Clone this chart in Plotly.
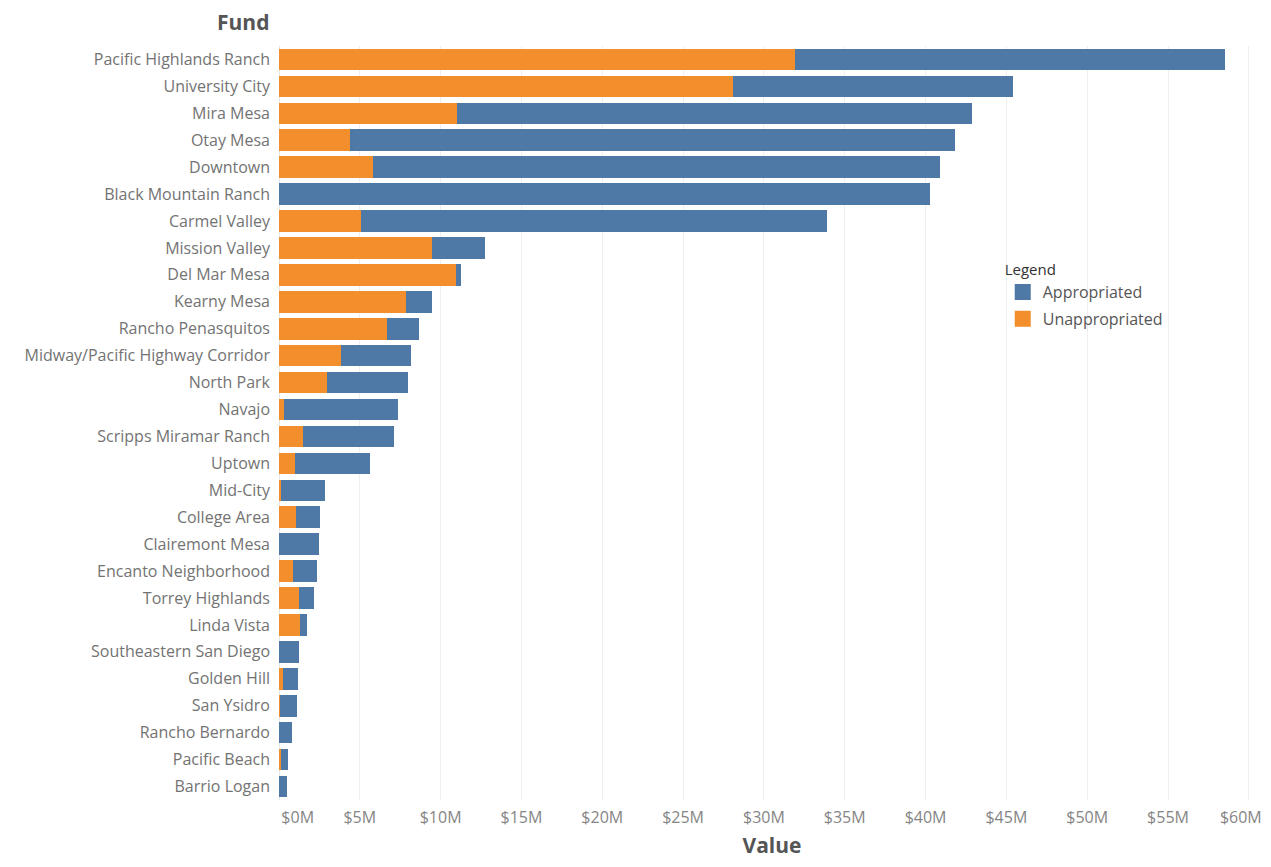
import plotly.graph_objects as go

funds = [
    "Pacific Highlands Ranch", "University City", "Mira Mesa", "Otay Mesa", "Downtown",
    "Black Mountain Ranch", "Carmel Valley", "Mission Valley", "Del Mar Mesa", "Kearny Mesa",
    "Rancho Penasquitos", "Midway/Pacific Highway Corridor", "North Park", "Navajo",
    "Scripps Miramar Ranch", "Uptown", "Mid-City", "College Area", "Clairemont Mesa",
    "Encanto Neighborhood", "Torrey Highlands", "Linda Vista", "Southeastern San Diego",
    "Golden Hill", "San Ysidro", "Rancho Bernardo", "Pacific Beach", "Barrio Logan",
]
# values in $M
unappropriated = [
    31.95, 28.1, 11.0, 4.4, 5.8,
    0.0, 5.08, 9.47, 10.96, 7.86,
    6.69, 3.84, 2.97, 0.3,
    1.49, 0.99, 0.1, 1.05, 0.0,
    0.87, 1.24, 1.3, 0.0,
    0.25, 0.06, 0.0, 0.15, 0.0,
]
totals = [
    58.5, 45.4, 42.9, 41.8, 40.9,
    40.3, 33.9, 12.75, 11.27, 9.47,
    8.67, 8.17, 7.99, 7.37,
    7.12, 5.63, 2.85, 2.54, 2.48,
    2.35, 2.17, 1.73, 1.24,
    1.18, 1.11, 0.8, 0.56, 0.5,
]
appropriated = [round(t - u, 3) for t, u in zip(totals, unappropriated)]

tick_vals = [0, 5, 10, 15, 20, 25, 30, 35, 40, 45, 50, 55, 60]
tick_text = ["$%dM" % v for v in tick_vals]

# first label sits right of its gridline, last label is pulled inside the frame
main_text = ["\u00a0" * 9 + tick_text[0]] + tick_text[1:-1] + [""]

BLUE = "#4e79a7"
ORANGE = "#f28e2b"
FONT = "Open Sans"
TICKFONT = dict(size=16, color="#858585", family=FONT)

fig = go.Figure()
fig.add_trace(go.Bar(
    y=funds, x=unappropriated, orientation="h", name="Unappropriated",
    marker=dict(color=ORANGE, line=dict(width=0)), showlegend=False,
))
fig.add_trace(go.Bar(
    y=funds, x=appropriated, orientation="h", name="Appropriated",
    marker=dict(color=BLUE, line=dict(width=0)), showlegend=False,
))
# legend entries (square swatches, no data drawn)
for nm, col in [("Appropriated", BLUE), ("Unappropriated", ORANGE)]:
    fig.add_trace(go.Scatter(
        x=[None], y=[None], mode="markers", name=nm, legendgroup=nm,
        marker=dict(symbol="square", size=19, color=col), showlegend=True,
    ))
# empty trace so the overlay axis carrying the last tick label is drawn
fig.add_trace(go.Scatter(x=[None], y=[None], xaxis="x2", mode="markers",
                         showlegend=False, hoverinfo="skip"))

# page body has an 8px margin: figure drawn from (8, 8)
fig.update_layout(
    barmode="stack",
    bargap=0.2,
    width=1263, height=851,
    margin=dict(l=271, r=6, t=38, b=59, autoexpand=False),
    paper_bgcolor="white", plot_bgcolor="white",
    font=dict(family=FONT, color="#6b6b6b", size=16),
    showlegend=True,
    legend=dict(
        title=dict(text="Legend", font=dict(size=15, color="#333333", family=FONT)),
        x=0.734, y=0.722, xanchor="left", yanchor="top",
        font=dict(size=16, color="#555555", family=FONT),
        bgcolor="rgba(0,0,0,0)", traceorder="grouped",
        itemsizing="trace", tracegroupgap=3, itemwidth=30,
    ),
    xaxis=dict(
        range=[0, 61.0], tickvals=tick_vals, ticktext=main_text,
        showgrid=True, gridcolor="#efefef", gridwidth=1,
        zeroline=True, zerolinecolor="#e6e6e6", zerolinewidth=1,
        showline=False, ticks="", ticklabelstandoff=6, automargin=True,
        ticklabeloverflow="allow", tickfont=TICKFONT,
        title=dict(text="<b>Value</b>", font=dict(size=21, color="#555555", family=FONT), standoff=16),
    ),
    xaxis2=dict(
        overlaying="x", matches="x", anchor="y", side="bottom",
        tickvals=tick_vals[-1:], ticktext=tick_text[-1:],
        showgrid=False, zeroline=False, showline=False, ticks="",
        ticklabelstandoff=6, ticklabelshift=-8, automargin=False,
        ticklabeloverflow="allow", tickfont=TICKFONT,
    ),
    yaxis=dict(
        categoryorder="array", categoryarray=funds[::-1],
        showgrid=False, ticks="", showline=False, ticklabelstandoff=8, automargin=False,
        tickfont=dict(size=16, color="#737373", family=FONT),
    ),
    annotations=[dict(
        text="<b>Fund</b>", xref="paper", yref="paper",
        x=-0.008, y=1.032, xanchor="right", yanchor="middle", showarrow=False,
        font=dict(size=21, color="#555555", family=FONT),
    )],
)

fig.write_html("out.html")
